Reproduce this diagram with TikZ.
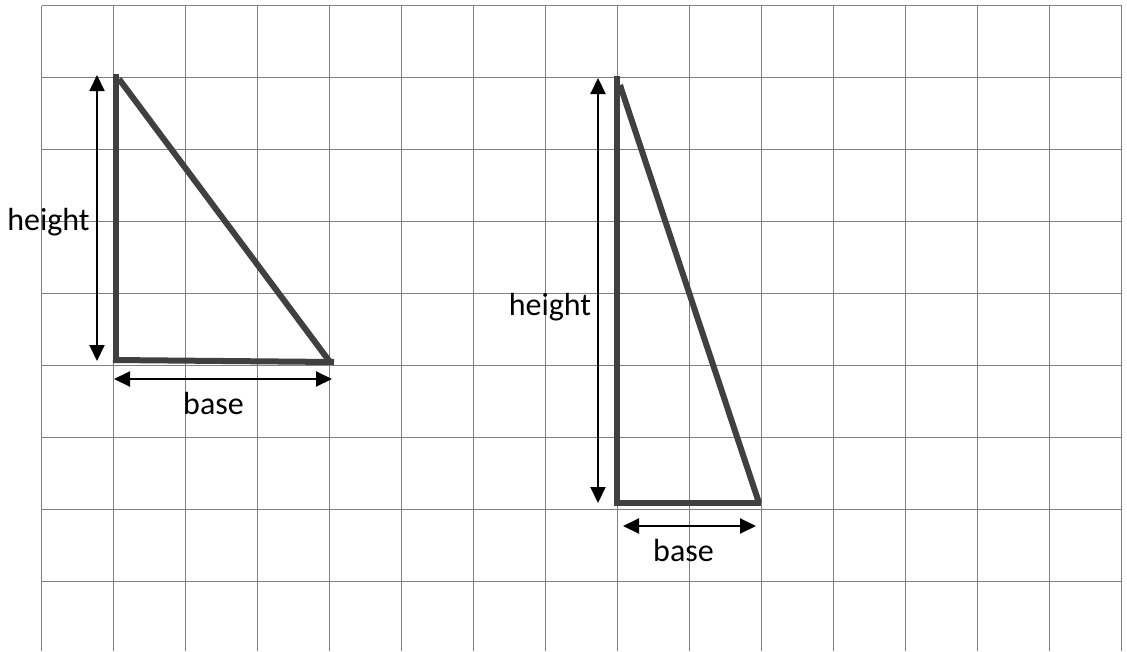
\documentclass[tikz,border=0pt]{standalone}
\usepackage{fontspec}
\setmainfont{Carlito}
\usetikzlibrary{arrows.meta}
\begin{document}
\begin{tikzpicture}[x=1pt,y=-1pt,
  gridline/.style={draw=black!50, line width=1.5pt},
  side/.style={draw=black!75, line width=6pt},
  dim/.style={draw=black, line width=2pt, {Triangle[length=16pt,width=15pt]}-{Triangle[length=16pt,width=15pt]}},
  lab/.style={anchor=base, inner sep=0pt, font=\fontsize{32}{38}\selectfont}]
\useasboundingbox (0,0) rectangle (1127,651);
% grid
\foreach \i in {0,...,15} {\draw[gridline] (41.5+72*\i,5.5) -- (41.5+72*\i,651);}
\foreach \j in {0,...,8} {\draw[gridline] (41.5,5.5+72*\j) -- (1121.7,5.5+72*\j);}
% left triangle
\coordinate (A1) at (116,74);
\coordinate (A2) at (116,361);
\coordinate (A3) at (334,362);
\coordinate (A1h) at (119,79);
\coordinate (A3h) at (330,362);
\draw[side] (A1) -- (A2);
\draw[side] (A1h) -- (A3h);
\draw[side] (113,360) -- (A3);
\coordinate (LH1) at (97,75);
\coordinate (LH2) at (97,361);
\draw[dim] (LH1) -- (LH2);
\coordinate (LB1) at (114,379);
\coordinate (LB2) at (332,379);
\draw[dim] (LB1) -- (LB2);
\node[lab] (lh) at (48.5,230) {height};
\node[lab] (lb) at (213.5,414) {base};
% right triangle
\coordinate (B1) at (617,76);
\coordinate (B2) at (617,503);
\coordinate (B3) at (761,503);
\coordinate (B1h) at (620,85);
\coordinate (B3h) at (759,503);
\draw[side] (B1) -- (B2);
\draw[side] (B1h) -- (B3h);
\draw[side] (614,503) -- (B3);
\coordinate (RH1) at (598,78);
\coordinate (RH2) at (598,503);
\draw[dim] (RH1) -- (RH2);
\coordinate (RB1) at (623,526);
\coordinate (RB2) at (756,526);
\draw[dim] (RB1) -- (RB2);
\node[lab] (rh) at (550,315) {height};
\node[lab] (rb) at (683.5,561) {base};
\end{tikzpicture}
\end{document}
